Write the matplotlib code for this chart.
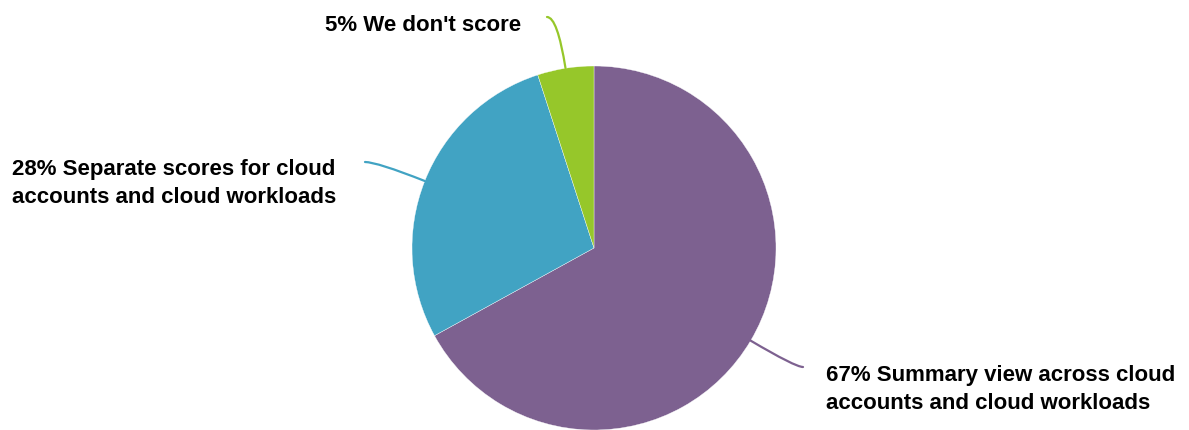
#!/usr/bin/env python3
"""
Pie chart: how cloud security posture is scored.
Saves out.png
"""

import numpy as np
import matplotlib.pyplot as plt
from matplotlib.path import Path
from matplotlib.patches import PathPatch

# Data
labels = ["Summary view across cloud\naccounts and cloud workloads",
          "Separate scores for cloud\naccounts and cloud workloads",
          "We don't score"]
shares = [67, 28, 5]
colors = ['#7D6190', '#41A3C3', '#96C72A']

W, H = 1189, 430


def main():
    plt.rcParams['font.family'] = ['Liberation Sans', 'DejaVu Sans']

    fig = plt.figure(figsize=(W / 100, H / 100), dpi=100)
    ax = fig.add_axes([0, 0, 1, 1])

    cx, cy, r = 594, H - 248, 182
    wedges, _ = ax.pie(shares, colors=colors, startangle=90, counterclock=False,
                       center=(cx, cy), radius=r, frame=True,
                       wedgeprops=dict(edgecolor='white', linewidth=0.25))
    ax.set_xlim(0, W)
    ax.set_ylim(0, H)
    ax.set_aspect('equal')
    ax.axis('off')

    # end of leader line, baseline of the last text line
    label_pos = [
        ((803, H - 367), (826, H - 409)),
        ((365, H - 162), (12, H - 203)),
        ((547, H - 17), (325, H - 31)),
    ]

    for w, share, lab, color, (end, txt) in zip(wedges, shares, labels, colors, label_pos):
        ang = np.deg2rad((w.theta1 + w.theta2) / 2)
        dx, dy = np.cos(ang), np.sin(ang)
        start = (cx + r * dx, cy + r * dy)
        # bend: radial line extended until it reaches the label's height
        t = (end[1] - start[1]) / dy
        ctrl = (start[0] + t * dx, end[1])
        path = Path([start, ctrl, end], [Path.MOVETO, Path.CURVE3, Path.CURVE3])
        ax.add_patch(PathPatch(path, fill=False, edgecolor=color, lw=1.6,
                               capstyle='round', clip_on=False))
        ax.text(txt[0], txt[1], f"{share}% {lab}", ha='left', va='baseline',
                fontsize=16, fontweight='bold', color='black', linespacing=1.45)

    fig.savefig('out.png', dpi=100)
    plt.close(fig)


if __name__ == '__main__':
    main()
